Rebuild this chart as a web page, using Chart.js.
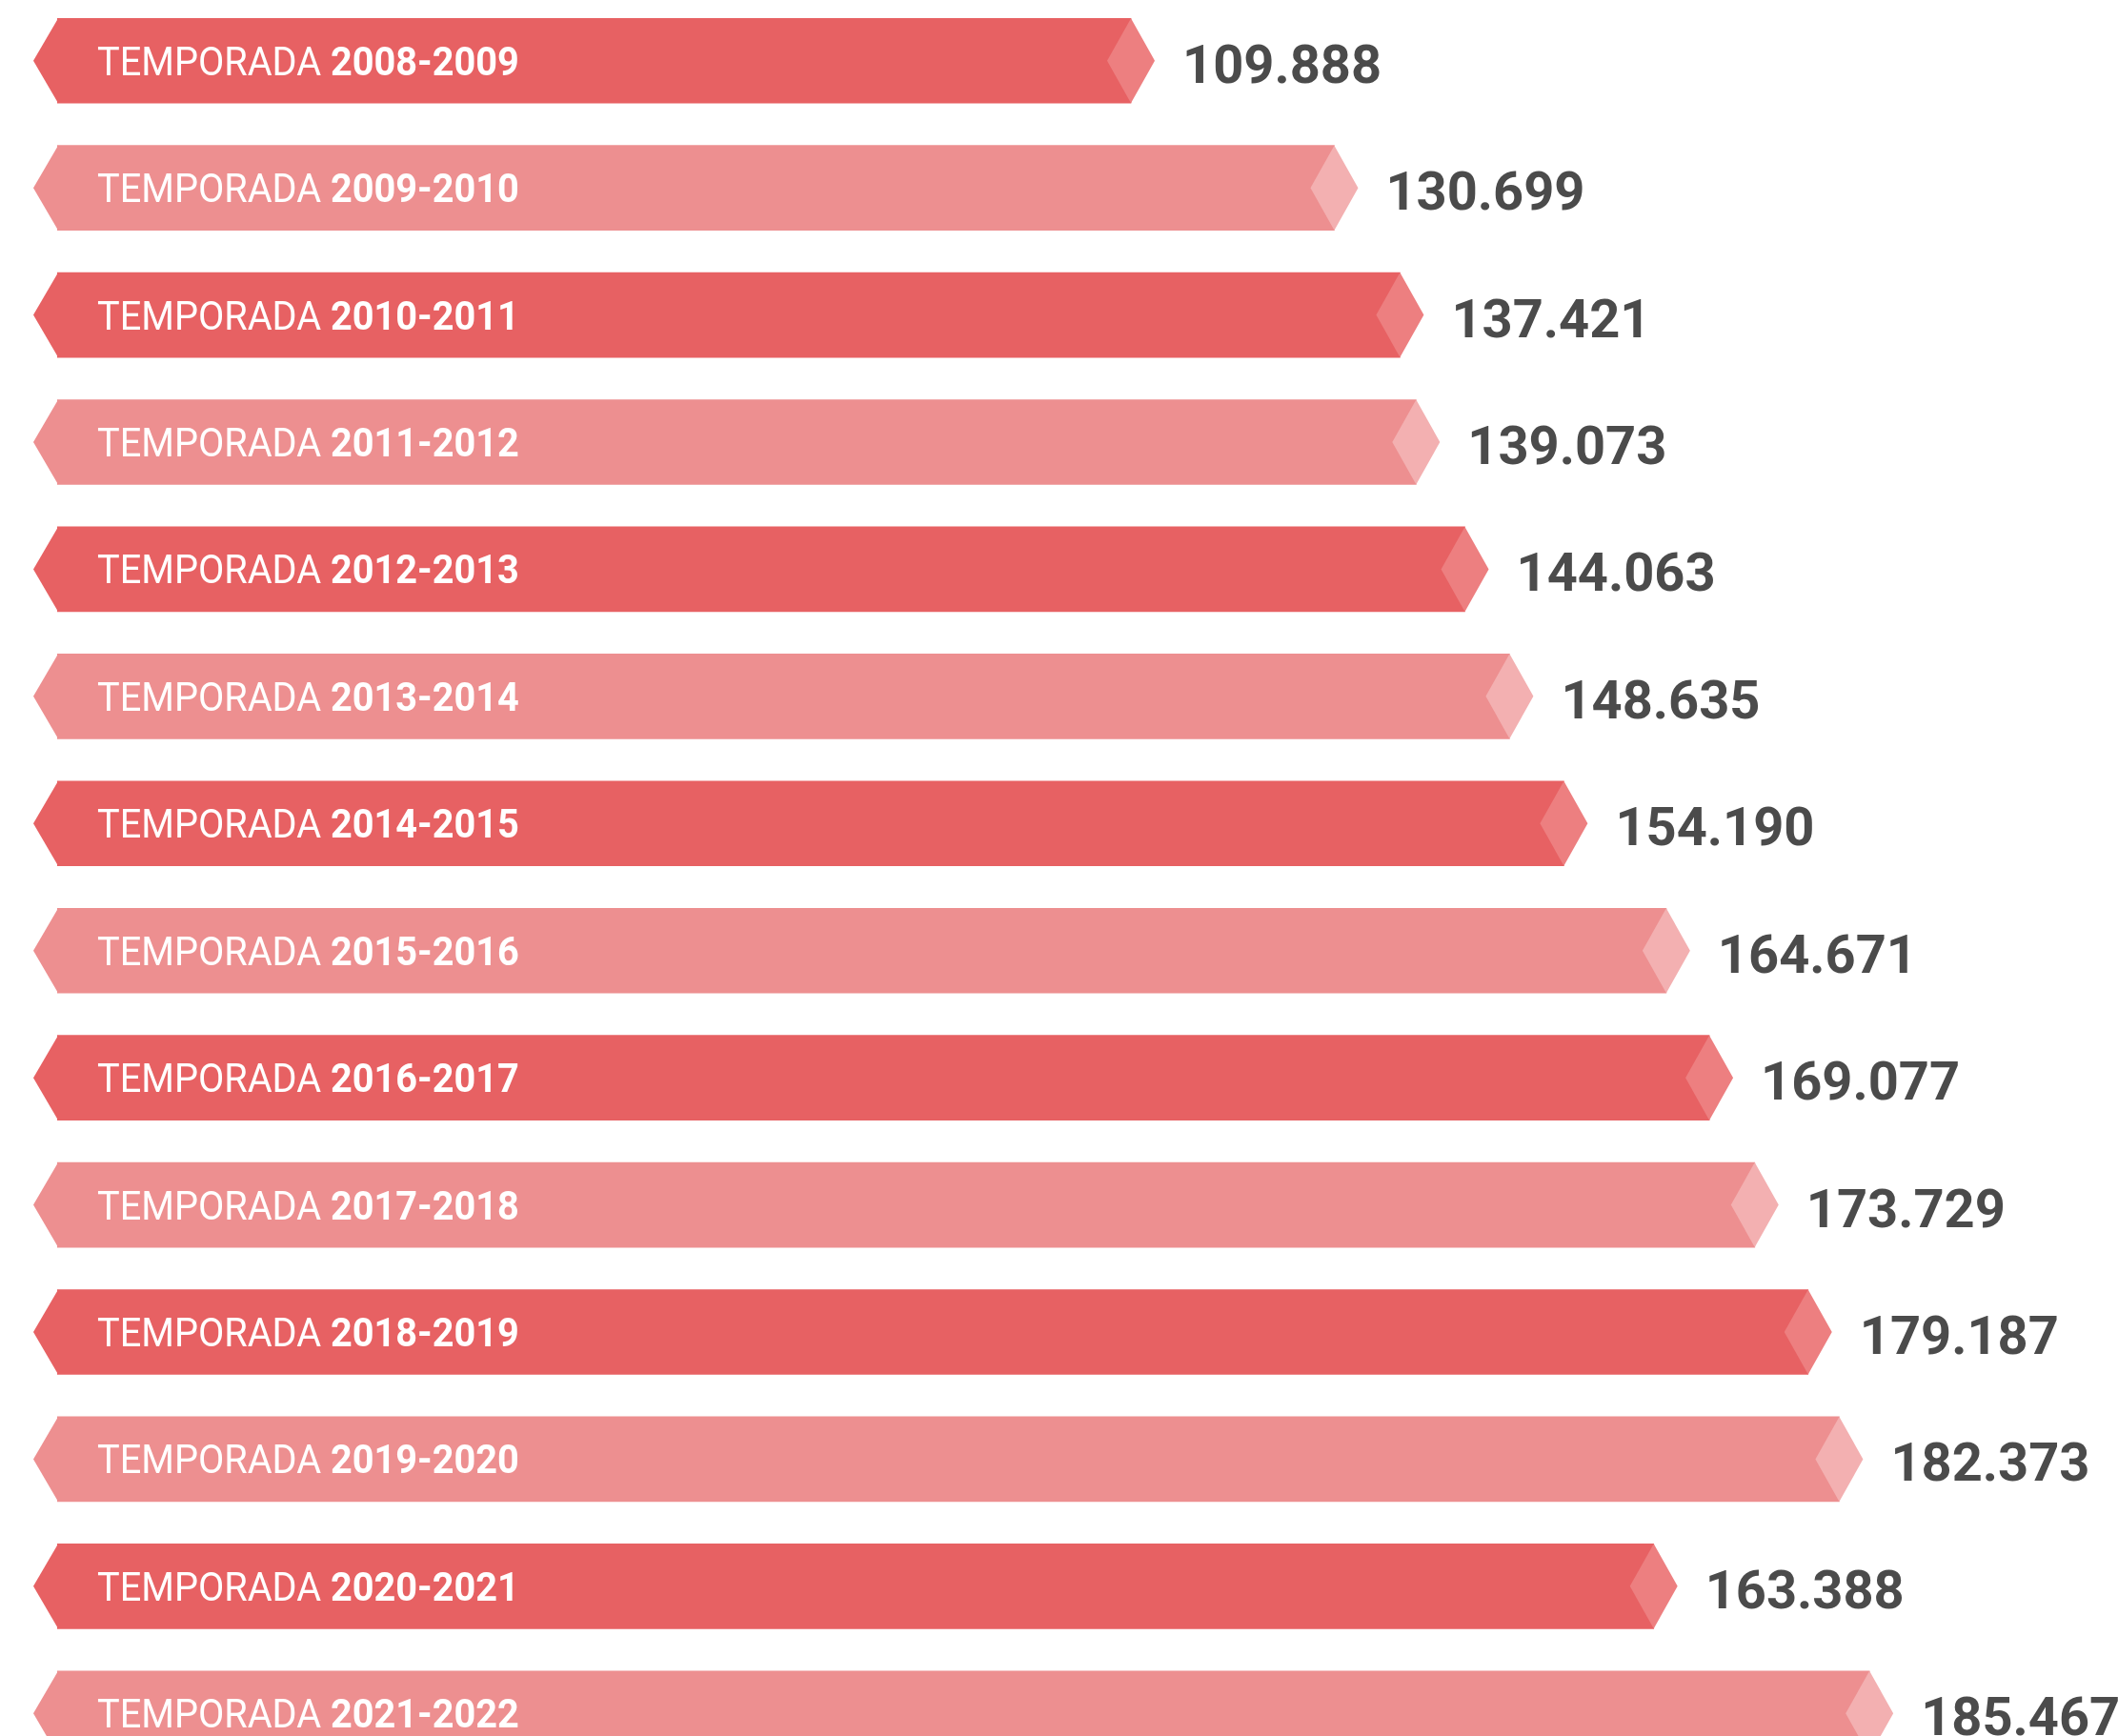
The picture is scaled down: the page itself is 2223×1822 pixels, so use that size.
<!DOCTYPE html>
<html>
<head>
<meta charset="utf-8">
<script src="https://cdn.jsdelivr.net/npm/chart.js@4.4.0/dist/chart.umd.min.js"></script>
<style>
  html, body { margin: 0; padding: 0; background: #fff; overflow: hidden; }
  #wrap { position: absolute; left: 0; top: -3px; width: 2223px; height: 1868px; }
</style>
</head>
<body>
<div id="wrap"><canvas id="visitas"></canvas></div>
<script>
// temporadas y visitantes
var prefijo = 'TEMPORADA';
var temporadas = [
  '2008-2009', '2009-2010', '2010-2011', '2011-2012', '2012-2013',
  '2013-2014', '2014-2015', '2015-2016', '2016-2017', '2017-2018',
  '2018-2019', '2019-2020', '2020-2021', '2021-2022'
];
var visitantes = [
  109888, 130699, 137421, 139073, 144063,
  148635, 154190, 164671, 169077, 173729,
  179187, 182373, 163388, 185467
];

// colores: barra oscura / clara y su rombo
var colorBarra = ['#e76163', '#ed8f90'];
var colorRombo = ['#ed7f80', '#f3b0b1'];

function formato(n) {
  return String(n).replace(/\B(?=(\d{3})+(?!\d))/g, '.');
}

// puntas de flecha, rombos y textos
var flechas = {
  id: 'flechas',
  afterDatasetsDraw: function (chart) {
    var ctx = chart.ctx;
    var meta = chart.getDatasetMeta(0);
    meta.data.forEach(function (bar, i) {
      var half = bar.height / 2;
      var top = bar.y - half, bottom = bar.y + half;
      ctx.save();
      // punta izquierda
      ctx.fillStyle = colorBarra[i % 2];
      ctx.beginPath();
      ctx.moveTo(bar.base + 1, top);
      ctx.lineTo(bar.base - 25, bar.y);
      ctx.lineTo(bar.base + 1, bottom);
      ctx.closePath();
      ctx.fill();
      // rombo derecho
      ctx.fillStyle = colorRombo[i % 2];
      ctx.beginPath();
      ctx.moveTo(bar.x, top);
      ctx.lineTo(bar.x + 25, bar.y);
      ctx.lineTo(bar.x, bottom);
      ctx.lineTo(bar.x - 25, bar.y);
      ctx.closePath();
      ctx.fill();
      // etiqueta dentro de la barra (algo estrecha)
      ctx.textBaseline = 'alphabetic';
      ctx.textAlign = 'left';
      ctx.save();
      ctx.translate(bar.base + 42, bar.y + 15);
      ctx.scale(0.945, 1);
      ctx.fillStyle = '#ffffff';
      ctx.font = '400 42px Roboto';
      ctx.fillText(prefijo, 0, 0);
      var w = ctx.measureText(prefijo + ' ').width;
      ctx.font = '700 42px Roboto';
      ctx.fillText(temporadas[i], w, 0);
      ctx.restore();
      // valor
      ctx.fillStyle = '#4b4b4b';
      ctx.font = '700 56px Roboto';
      ctx.fillText(formato(visitantes[i]), bar.x + 54, bar.y + 23);
      ctx.restore();
    });
  }
};

var ctx = document.getElementById('visitas');

var data = {
  labels: temporadas,
  datasets: [{
    label: 'Visitantes',
    data: visitantes,
    backgroundColor: function (c) { return colorBarra[c.dataIndex % 2]; },
    borderWidth: 0,
    barThickness: 89
  }]
};

var options = {
  indexAxis: 'y',
  responsive: true,
  maintainAspectRatio: false,
  animation: false,
  layout: { padding: { left: 60, right: 0, top: 0, bottom: 0 } },
  plugins: {
    legend: { display: false },
    tooltip: { enabled: false }
  },
  scales: {
    x: { display: false, min: 0, max: 210900 },
    y: { display: false }
  }
};

new Chart(ctx, {
  type: 'bar',
  data: data,
  options: options,
  plugins: [flechas]
});
</script>
</body>
</html>
